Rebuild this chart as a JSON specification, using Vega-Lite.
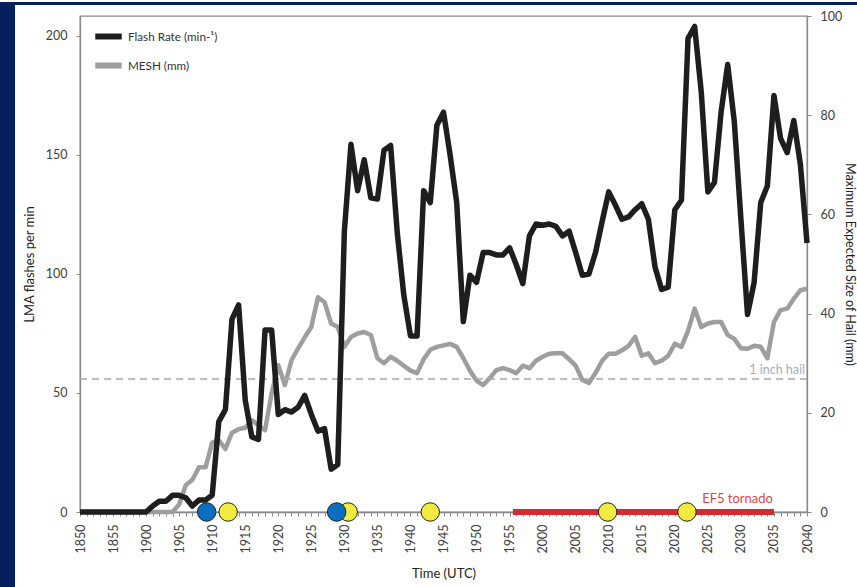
{
  "$schema": "https://vega.github.io/schema/vega-lite/v6.json",
  "padding": 0,
  "background": "#ffffff",
  "config": {
    "view": {"stroke": null},
    "font": "Lato",
    "axis": {
      "grid": false,
      "labelFont": "Lato",
      "labelFontSize": 12.5,
      "labelColor": "#404040",
      "domainColor": "#8a8a8a",
      "domainWidth": 1.3,
      "tickColor": "#8a8a8a",
      "tickSize": 4,
      "titleFont": "Lato",
      "titleFontWeight": "normal",
      "titleFontSize": 13,
      "titleColor": "#222222"
    }
  },
  "datasets": {
    "minutes": [
      {"time": "18:50", "flash": 0, "mesh": 0},
      {"time": "18:51", "flash": 0, "mesh": 0},
      {"time": "18:52", "flash": 0, "mesh": 0},
      {"time": "18:53", "flash": 0, "mesh": 0},
      {"time": "18:54", "flash": 0, "mesh": 0},
      {"time": "18:55", "flash": 0, "mesh": 0},
      {"time": "18:56", "flash": 0, "mesh": 0},
      {"time": "18:57", "flash": 0, "mesh": 0},
      {"time": "18:58", "flash": 0, "mesh": 0},
      {"time": "18:59", "flash": 0, "mesh": 0},
      {"time": "19:00", "flash": 0, "mesh": 0},
      {"time": "19:01", "flash": 2.5, "mesh": 0},
      {"time": "19:02", "flash": 4.5, "mesh": 0},
      {"time": "19:03", "flash": 4.5, "mesh": 0},
      {"time": "19:04", "flash": 7, "mesh": 0},
      {"time": "19:05", "flash": 7, "mesh": 1.5},
      {"time": "19:06", "flash": 6, "mesh": 5.4},
      {"time": "19:07", "flash": 2.5, "mesh": 6.5},
      {"time": "19:08", "flash": 5, "mesh": 9},
      {"time": "19:09", "flash": 5, "mesh": 9},
      {"time": "19:10", "flash": 7, "mesh": 14},
      {"time": "19:11", "flash": 38, "mesh": 14.5},
      {"time": "19:12", "flash": 43, "mesh": 12.7},
      {"time": "19:13", "flash": 81, "mesh": 16},
      {"time": "19:14", "flash": 87, "mesh": 16.7},
      {"time": "19:15", "flash": 47, "mesh": 17},
      {"time": "19:16", "flash": 31.5, "mesh": 18.5},
      {"time": "19:17", "flash": 30.5, "mesh": 17.5},
      {"time": "19:18", "flash": 76.5, "mesh": 16.5},
      {"time": "19:19", "flash": 76.5, "mesh": 24},
      {"time": "19:20", "flash": 41, "mesh": 29.6},
      {"time": "19:21", "flash": 43, "mesh": 25.6},
      {"time": "19:22", "flash": 42, "mesh": 30.6},
      {"time": "19:23", "flash": 44, "mesh": 33},
      {"time": "19:24", "flash": 49, "mesh": 35.2},
      {"time": "19:25", "flash": 41, "mesh": 37.3},
      {"time": "19:26", "flash": 34, "mesh": 43.3},
      {"time": "19:27", "flash": 35, "mesh": 42.3},
      {"time": "19:28", "flash": 18, "mesh": 38},
      {"time": "19:29", "flash": 20, "mesh": 37.3},
      {"time": "19:30", "flash": 118, "mesh": 33.3},
      {"time": "19:31", "flash": 154.5, "mesh": 35.3},
      {"time": "19:32", "flash": 135, "mesh": 36},
      {"time": "19:33", "flash": 148, "mesh": 36.3},
      {"time": "19:34", "flash": 132, "mesh": 35.7},
      {"time": "19:35", "flash": 131.5, "mesh": 31},
      {"time": "19:36", "flash": 152, "mesh": 30},
      {"time": "19:37", "flash": 154, "mesh": 31.3},
      {"time": "19:38", "flash": 117.5, "mesh": 30.5},
      {"time": "19:39", "flash": 91, "mesh": 29.5},
      {"time": "19:40", "flash": 74, "mesh": 28.5},
      {"time": "19:41", "flash": 74, "mesh": 28},
      {"time": "19:42", "flash": 135, "mesh": 30.8},
      {"time": "19:43", "flash": 130, "mesh": 32.7},
      {"time": "19:44", "flash": 162.5, "mesh": 33.3},
      {"time": "19:45", "flash": 168, "mesh": 33.6},
      {"time": "19:46", "flash": 150, "mesh": 33.9},
      {"time": "19:47", "flash": 130, "mesh": 33.3},
      {"time": "19:48", "flash": 80, "mesh": 31},
      {"time": "19:49", "flash": 99.5, "mesh": 28.5},
      {"time": "19:50", "flash": 96.5, "mesh": 26.5},
      {"time": "19:51", "flash": 109, "mesh": 25.6},
      {"time": "19:52", "flash": 109, "mesh": 27},
      {"time": "19:53", "flash": 108, "mesh": 28.6},
      {"time": "19:54", "flash": 108, "mesh": 29},
      {"time": "19:55", "flash": 111, "mesh": 28.6},
      {"time": "19:56", "flash": 104, "mesh": 28},
      {"time": "19:57", "flash": 96, "mesh": 29.5},
      {"time": "19:58", "flash": 116, "mesh": 29},
      {"time": "19:59", "flash": 121, "mesh": 30.5},
      {"time": "20:00", "flash": 120.5, "mesh": 31.3},
      {"time": "20:01", "flash": 121, "mesh": 31.9},
      {"time": "20:02", "flash": 120, "mesh": 32},
      {"time": "20:03", "flash": 116, "mesh": 32},
      {"time": "20:04", "flash": 118, "mesh": 30.8},
      {"time": "20:05", "flash": 109, "mesh": 29.5},
      {"time": "20:06", "flash": 99.5, "mesh": 26.6},
      {"time": "20:07", "flash": 100, "mesh": 26},
      {"time": "20:08", "flash": 109, "mesh": 28},
      {"time": "20:09", "flash": 122, "mesh": 30.5},
      {"time": "20:10", "flash": 134.5, "mesh": 31.9},
      {"time": "20:11", "flash": 129, "mesh": 31.9},
      {"time": "20:12", "flash": 123, "mesh": 32.6},
      {"time": "20:13", "flash": 124, "mesh": 33.5},
      {"time": "20:14", "flash": 127, "mesh": 35.3},
      {"time": "20:15", "flash": 129.5, "mesh": 31.5},
      {"time": "20:16", "flash": 123, "mesh": 32},
      {"time": "20:17", "flash": 103, "mesh": 30},
      {"time": "20:18", "flash": 93.5, "mesh": 30.5},
      {"time": "20:19", "flash": 94.5, "mesh": 31.5},
      {"time": "20:20", "flash": 127, "mesh": 33.9},
      {"time": "20:21", "flash": 131, "mesh": 33.3},
      {"time": "20:22", "flash": 199, "mesh": 36.5},
      {"time": "20:23", "flash": 204, "mesh": 41},
      {"time": "20:24", "flash": 176.5, "mesh": 37.3},
      {"time": "20:25", "flash": 134.5, "mesh": 38},
      {"time": "20:26", "flash": 138.5, "mesh": 38.3},
      {"time": "20:27", "flash": 168, "mesh": 38.3},
      {"time": "20:28", "flash": 188, "mesh": 35.7},
      {"time": "20:29", "flash": 164, "mesh": 34.9},
      {"time": "20:30", "flash": 123, "mesh": 33},
      {"time": "20:31", "flash": 83, "mesh": 32.9},
      {"time": "20:32", "flash": 96.5, "mesh": 33.5},
      {"time": "20:33", "flash": 130, "mesh": 33.3},
      {"time": "20:34", "flash": 137, "mesh": 31},
      {"time": "20:35", "flash": 175, "mesh": 38.3},
      {"time": "20:36", "flash": 157, "mesh": 40.7},
      {"time": "20:37", "flash": 151, "mesh": 41},
      {"time": "20:38", "flash": 164.5, "mesh": 43},
      {"time": "20:39", "flash": 146, "mesh": 44.7},
      {"time": "20:40", "flash": 113, "mesh": 45}
    ],
    "events": [
      {"time": "19:12:25", "kind": "yellow"},
      {"time": "19:30:35", "kind": "yellow"},
      {"time": "19:43:00", "kind": "yellow"},
      {"time": "20:09:50", "kind": "yellow"},
      {"time": "20:21:50", "kind": "yellow"},
      {"time": "19:09:10", "kind": "blue"},
      {"time": "19:28:50", "kind": "blue"}
    ],
    "tornado": [
      {"event": "EF5 tornado", "start": "19:55:30", "end": "20:35:00"}
    ],
    "threshold": [
      {"label": "1 inch hail", "mm": 26.8, "start": "18:50", "end": "20:40"}
    ]
  },
  "spacing": 0,
  "bounds": "flush",
  "vconcat": [
    {
      "width": 857,
      "height": 3,
      "data": {"values": [{}]},
      "mark": {"type": "point", "opacity": 0},
      "view": {"fill": "#061f5e", "stroke": null}
    },
    {
      "spacing": 65,
      "bounds": "flush",
      "hconcat": [
        {
          "width": 15,
          "height": 584,
          "data": {"values": [{}]},
          "mark": {"type": "point", "opacity": 0},
          "view": {"fill": "#061f5e", "stroke": null}
        },
        {
          "spacing": 10,
          "bounds": "flush",
          "vconcat": [
            {
              "width": 727,
              "height": 1,
              "data": {"values": [{}]},
              "mark": {"type": "point", "opacity": 0},
              "view": {"stroke": null}
            },
            {
              "width": 727,
              "height": 496,
              "view": {"stroke": "#8a8a8a", "strokeWidth": 1.3},
              "data": {"name": "minutes", "format": {"parse": {"time": "date:'%H:%M'"}}},
              "layer": [
                {
                  "layer": [
                    {
                      "mark": {"type": "line", "strokeWidth": 4.5, "strokeJoin": "round"},
                      "encoding": {
                        "x": {"field": "time", "type": "temporal", "title": "Time (UTC)",
                              "scale": {"domain": [{"year": 1900, "month": 1, "date": 1, "hours": 18, "minutes": 50}, {"year": 1900, "month": 1, "date": 1, "hours": 20, "minutes": 40}], "nice": false}},
                        "y": {"field": "mesh", "type": "quantitative", "title": "Maximum Expected Size of Hail (mm)",
                              "scale": {"domain": [0, 100], "nice": false},
                              "axis": {"orient": "right", "values": [0, 20, 40, 60, 80, 100], "labelPadding": 9, "titlePadding": 1, "titleFontSize": 12.5}},
                        "color": {"datum": "MESH (mm)", "type": "nominal",
                                  "scale": {"domain": ["Flash Rate (min-¹)", "MESH (mm)"], "range": ["#1e1e1e", "#9e9e9e"]},
                                  "legend": {"title": null, "orient": "none", "legendX": 92, "legendY": 18, "symbolType": "stroke", "symbolSize": 700, "symbolStrokeWidth": 6, "labelFontSize": 11.7, "labelColor": "#333333", "labelOffset": 3, "rowPadding": 0, "labelFont": "Lato"}}
                      }
                    },
                    {
                      "data": {"name": "threshold", "format": {"parse": {"start": "date:'%H:%M'", "end": "date:'%H:%M'"}}},
                      "layer": [
                        {
                          "mark": {"type": "rule", "strokeDash": [7, 5], "strokeWidth": 1.5, "color": "#a8a8a8"},
                          "encoding": {
                            "x": {"field": "start", "type": "temporal", "title": "Time (UTC)",
                                  "scale": {"domain": [{"year": 1900, "month": 1, "date": 1, "hours": 18, "minutes": 50}, {"year": 1900, "month": 1, "date": 1, "hours": 20, "minutes": 40}], "nice": false}},
                            "x2": {"field": "end"},
                            "y": {"field": "mm", "type": "quantitative", "title": "Maximum Expected Size of Hail (mm)",
                                  "scale": {"domain": [0, 100], "nice": false}}
                          }
                        },
                        {
                          "mark": {"type": "text", "align": "right", "baseline": "bottom", "dx": -2, "dy": -2, "fontSize": 12.5, "color": "#a3aec0", "font": "Lato"},
                          "encoding": {
                            "x": {"field": "end", "type": "temporal", "title": "Time (UTC)",
                                  "scale": {"domain": [{"year": 1900, "month": 1, "date": 1, "hours": 18, "minutes": 50}, {"year": 1900, "month": 1, "date": 1, "hours": 20, "minutes": 40}], "nice": false}},
                            "y": {"field": "mm", "type": "quantitative", "title": "Maximum Expected Size of Hail (mm)",
                                  "scale": {"domain": [0, 100], "nice": false}},
                            "text": {"field": "label"}
                          }
                        }
                      ]
                    }
                  ]
                },
                {
                  "layer": [
                    {
                      "mark": {"type": "line", "strokeWidth": 5.5, "strokeJoin": "round"},
                      "encoding": {
                        "x": {"field": "time", "type": "temporal", "title": "Time (UTC)",
                              "scale": {"domain": [{"year": 1900, "month": 1, "date": 1, "hours": 18, "minutes": 50}, {"year": 1900, "month": 1, "date": 1, "hours": 20, "minutes": 40}], "nice": false},
                              "axis": {"orient": "bottom", "tickCount": 110, "labelExpr": "minutes(datum.value) % 5 === 0 ? timeFormat(datum.value, '%H%M') : ''", "labelAngle": -90, "labelFontSize": 12.5, "labelPadding": 8, "titlePadding": 15, "labelOverlap": false, "labelFlush": false}},
                        "y": {"field": "flash", "type": "quantitative", "title": "LMA flashes per min",
                              "scale": {"domain": [0, 208.4], "nice": false},
                              "axis": {"orient": "left", "values": [0, 50, 100, 150, 200], "labelPadding": 9, "titlePadding": 9}},
                        "color": {"datum": "Flash Rate (min-¹)", "type": "nominal",
                                  "scale": {"domain": ["Flash Rate (min-¹)", "MESH (mm)"], "range": ["#1e1e1e", "#9e9e9e"]},
                                  "legend": {"title": null, "orient": "none", "legendX": 92, "legendY": 18, "symbolType": "stroke", "symbolSize": 700, "symbolStrokeWidth": 6, "labelFontSize": 11.7, "labelColor": "#333333", "labelOffset": 3, "rowPadding": 0, "labelFont": "Lato"}}
                      }
                    },
                    {
                      "data": {"name": "tornado", "format": {"parse": {"start": "date:'%H:%M:%S'", "end": "date:'%H:%M:%S'"}}},
                      "layer": [
                        {
                          "mark": {"type": "rule", "strokeWidth": 6, "color": "#d42a31", "strokeCap": "butt"},
                          "encoding": {
                            "x": {"field": "start", "type": "temporal", "title": "Time (UTC)",
                                  "scale": {"domain": [{"year": 1900, "month": 1, "date": 1, "hours": 18, "minutes": 50}, {"year": 1900, "month": 1, "date": 1, "hours": 20, "minutes": 40}], "nice": false}},
                            "x2": {"field": "end"},
                            "y": {"datum": 0, "type": "quantitative", "title": "LMA flashes per min",
                                  "scale": {"domain": [0, 208.4], "nice": false}}
                          }
                        },
                        {
                          "mark": {"type": "text", "align": "right", "baseline": "bottom", "dx": -1, "dy": -6, "fontSize": 13, "color": "#e0464e", "font": "Lato"},
                          "encoding": {
                            "x": {"field": "end", "type": "temporal", "title": "Time (UTC)",
                                  "scale": {"domain": [{"year": 1900, "month": 1, "date": 1, "hours": 18, "minutes": 50}, {"year": 1900, "month": 1, "date": 1, "hours": 20, "minutes": 40}], "nice": false}},
                            "y": {"datum": 0, "type": "quantitative", "title": "LMA flashes per min",
                                  "scale": {"domain": [0, 208.4], "nice": false}},
                            "text": {"field": "event"}
                          }
                        }
                      ]
                    },
                    {
                      "data": {"name": "events", "format": {"parse": {"time": "date:'%H:%M:%S'"}}},
                      "mark": {"type": "circle", "size": 340, "stroke": "#222222", "strokeWidth": 1, "opacity": 1},
                      "encoding": {
                        "x": {"field": "time", "type": "temporal", "title": "Time (UTC)",
                              "scale": {"domain": [{"year": 1900, "month": 1, "date": 1, "hours": 18, "minutes": 50}, {"year": 1900, "month": 1, "date": 1, "hours": 20, "minutes": 40}], "nice": false}},
                        "y": {"datum": 0, "type": "quantitative", "title": "LMA flashes per min",
                              "scale": {"domain": [0, 208.4], "nice": false}},
                        "fill": {"field": "kind", "type": "nominal", "legend": null,
                                 "scale": {"domain": ["blue", "yellow"], "range": ["#0b6fc0", "#f2ea3f"]}}
                      }
                    }
                  ]
                }
              ],
              "resolve": {"scale": {"y": "independent"}}
            }
          ]
        }
      ]
    }
  ]
}
